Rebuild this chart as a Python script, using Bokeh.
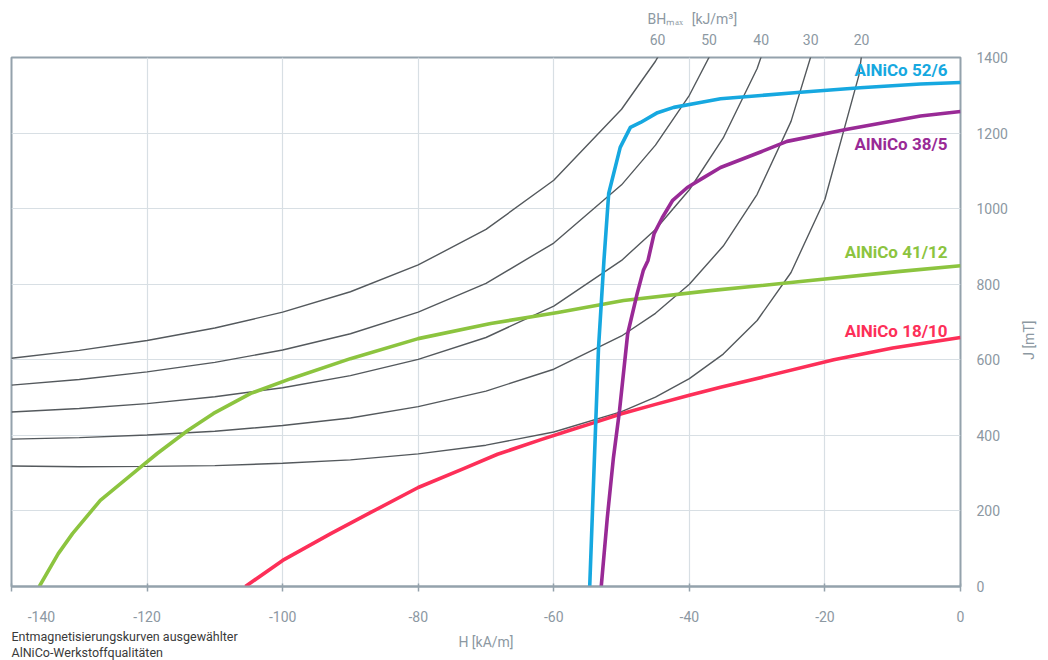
from bokeh.plotting import figure
from bokeh.models import ColumnDataSource, LinearAxis, FixedTicker, Range1d, Title
from bokeh.embed import file_html
from bokeh.resources import INLINE
from bokeh.core.properties import value
import math

# ---------------- data ----------------
x_ticks = [-140, -120, -100, -80, -60, -40, -20, 0]
y_ticks = [0, 200, 400, 600, 800, 1000, 1200, 1400]

# iso-energy (BHmax) reference curves, J [mT] sampled along H [kA/m]
bh_values = [60, 50, 40, 30, 20]
bh_tick_h = [-44.7, -37.1, -29.4, -22.1, -14.6]
iso_h = [-140, -130, -120, -110, -100, -90, -80, -70, -60, -50, -45, -40, -35, -30, -25, -20, -15, -10]
iso_60 = [604, 625, 651, 684, 726, 780, 851, 945, 1075, 1263, 1390, 1550]
iso_50 = [533, 548, 568, 593, 626, 669, 726, 802, 909, 1063, 1168, 1300, 1473]
iso_40 = [462, 471, 484, 502, 526, 558, 601, 659, 742, 863, 945, 1050, 1187, 1371, 1631]
iso_30 = [390, 394, 401, 411, 426, 446, 476, 517, 575, 663, 723, 800, 901, 1038, 1231, 1525]
iso_20 = [319, 317, 318, 320, 326, 335, 351, 374, 409, 463, 501, 550, 615, 704, 831, 1025, 1352, 2013]

# demagnetisation curves
h_52_6 = [-54.7, -53.8, -53.4, -52.6, -51.9, -50.2, -48.7, -47.2, -44.7, -42.3, -38.4, -35.4, -23.6, -14.8, -5.9, 0]
j_52_6 = [0, 439, 632, 863, 1040, 1162, 1215, 1228, 1254, 1268, 1281, 1291, 1308, 1320, 1330, 1334]

h_38_5 = [-53.0, -52.1, -51.2, -50.3, -49.1, -47.7, -46.8, -46.1, -45.2, -44.0, -42.5, -40.3, -37.9, -35.4,
          -29.5, -25.6, -16.7, -5.9, 0]
j_38_5 = [0, 183, 341, 466, 669, 775, 836, 863, 934, 976, 1021, 1056, 1082, 1109,
          1150, 1178, 1210, 1245, 1257]

h_41_12 = [-135.9, -133.1, -131.0, -126.9, -121.0, -118.5, -114.0, -110.2, -104.7, -98.8, -90.0, -80.0,
           -69.3, -59.4, -49.7, -36.9, -23.6, -8.9, 0]
j_41_12 = [0, 87, 140, 228, 315, 352, 413, 458, 511, 550, 603, 656,
           696, 725, 757, 783, 807, 834, 849]

h_18_10 = [-105.5, -100.0, -92.9, -87.0, -80.0, -73.3, -68.3, -62.0, -57.5, -53.8, -50.0, -45.0,
           -40.0, -35.4, -18.7, -10.0, 0]
j_18_10 = [0, 69, 140, 196, 262, 312, 350, 388, 414, 435, 457, 482,
           506, 527, 600, 631, 659]

series_names = ["AlNiCo 52/6", "AlNiCo 38/5", "AlNiCo 41/12", "AlNiCo 18/10"]
series_colors = ["#16a8e0", "#992a96", "#8cc43f", "#fd2f58"]

x_title = "H [kA/m]"
y_title = "J [mT]"
bh_title = "BH\u2098\u2090\u2093\u2002\u200a[kJ/m\u00b3]"
caption = "Entmagnetisierungskurven ausgew\u00e4hlter\nAlNiCo-Werkstoffqualit\u00e4ten"

# ---------------- styling / layout ----------------
FONT = "Roboto"
AXIS_COL = "#94a2ac"
GRID_COL = "#d8dfe4"
TICK_TXT = "#8c98a2"
GRAY_LINE = "#54595d"

W, H = 1048, 660
ML, MR, MT, MB = 11, 88, 57, 74
frame_w = W - ML - MR
frame_h = H - MT - MB
FR_RIGHT = W - MR     # canvas x of H = 0
FR_BOTTOM = H - MB    # canvas y of J = 0
PX_H = frame_w / 140.0
PX_J = frame_h / 1400.0


def dx(cx):
    return (cx - FR_RIGHT) / PX_H


def dy(cy):
    return (FR_BOTTOM - cy) / PX_J


p = figure(width=W, height=H, x_range=Range1d(-140, 0), y_range=Range1d(0, 1400),
           output_backend="svg", toolbar_location=None,
           x_axis_location="below", y_axis_location="right",
           min_border_left=ML, min_border_right=MR, min_border_top=MT, min_border_bottom=MB)
p.background_fill_color = "white"
p.border_fill_color = "white"
p.outline_line_color = AXIS_COL
p.outline_line_width = 2

# grid
p.xgrid.ticker = FixedTicker(ticks=x_ticks)
p.ygrid.ticker = FixedTicker(ticks=y_ticks)
p.xgrid.grid_line_color = GRID_COL
p.ygrid.grid_line_color = GRID_COL
p.xgrid.grid_line_width = 1.2
p.ygrid.grid_line_width = 1.2

# bottom axis (plain hyphen minus; first label padded so it sits right of its tick)
xa = p.xaxis[0]
xa.ticker = FixedTicker(ticks=x_ticks)
x_over = {t: str(t) for t in x_ticks}
x_over[x_ticks[0]] = "\u2007\u2007\u2007\u2005" + str(x_ticks[0])
xa.major_label_overrides = x_over
xa.axis_line_color = AXIS_COL
xa.axis_line_width = 2
xa.major_tick_line_color = AXIS_COL
xa.major_tick_line_width = 1.5
xa.major_tick_in = 3
xa.major_tick_out = 5
xa.minor_tick_line_color = None
xa.major_label_standoff = 17
xa.major_label_text_font = FONT
xa.major_label_text_font_size = "14px"
xa.major_label_text_color = TICK_TXT
xa.axis_label = x_title
xa.axis_label_standoff = 6
xa.axis_label_text_font = FONT
xa.axis_label_text_font_size = "14px"
xa.axis_label_text_font_style = "normal"
xa.axis_label_text_color = TICK_TXT

# right axis
ya = p.yaxis[0]
ya.ticker = FixedTicker(ticks=y_ticks)
ya.axis_line_color = None
ya.major_tick_line_color = None
ya.minor_tick_line_color = None
ya.major_tick_in = 0
ya.major_tick_out = 0
ya.major_label_standoff = 16
ya.major_label_text_font = FONT
ya.major_label_text_font_size = "14px"
ya.major_label_text_color = TICK_TXT

# second right axis carrying the rotated title "J [mT]"
jt = LinearAxis(ticker=FixedTicker(ticks=[600]), major_label_overrides={600: y_title})
jt.axis_line_color = None
jt.major_tick_line_color = None
jt.minor_tick_line_color = None
jt.major_tick_in = 0
jt.major_tick_out = 0
jt.major_label_standoff = 19
jt.major_label_orientation = math.pi / 2
jt.major_label_text_font = FONT
jt.major_label_text_font_size = "14px"
jt.major_label_text_color = TICK_TXT
p.add_layout(jt, "right")

# top axis: BHmax values where the iso-curves leave the frame
ta = LinearAxis(ticker=FixedTicker(ticks=bh_tick_h),
                major_label_overrides={h: str(v) for h, v in zip(bh_tick_h, bh_values)})
ta.axis_line_color = None
ta.major_tick_line_color = None
ta.minor_tick_line_color = None
ta.major_tick_in = 0
ta.major_tick_out = 0
ta.major_label_standoff = 13
ta.major_label_text_font = FONT
ta.major_label_text_font_size = "14px"
ta.major_label_text_color = TICK_TXT
p.add_layout(ta, "above")

# BHmax title above the top axis
p.add_layout(Title(text=bh_title, align="left", offset=636, standoff=8, vertical_align="bottom",
                   text_font=FONT, text_font_size="14px", text_font_style="normal",
                   text_color=TICK_TXT), "above")

# caption below, pulled up to the row of the axis title
p.add_layout(Title(text=caption, align="left", offset=0, standoff=-48, vertical_align="top",
                   text_font=FONT, text_font_size="12.5px", text_font_style="normal",
                   text_line_height=1.1, text_color="#3a3a3a"), "below")

# iso-energy curves
for jvals in [iso_60, iso_50, iso_40, iso_30, iso_20]:
    p.line(iso_h[:len(jvals)], jvals, line_color=GRAY_LINE, line_width=1.4)

# demagnetisation curves
for hs, js, col in [(h_41_12, j_41_12, series_colors[2]),
                    (h_18_10, j_18_10, series_colors[3]),
                    (h_38_5, j_38_5, series_colors[1]),
                    (h_52_6, j_52_6, series_colors[0])]:
    p.line(hs, js, line_color=col, line_width=3.6, line_join="round")

# series labels (right aligned near the right frame edge)
label_canvas_y = [69, 143, 251, 330]
lab_src = ColumnDataSource(dict(
    x=[dx(947)] * 4,
    y=[dy(v) for v in label_canvas_y],
    text=series_names,
    color=series_colors,
))
p.text(x="x", y="y", text="text", text_color="color", source=lab_src,
       text_font=value(FONT), text_font_size="17px", text_font_style="bold",
       text_align="right", text_baseline="middle")

open("out.html", "w").write(file_html(p, INLINE))
